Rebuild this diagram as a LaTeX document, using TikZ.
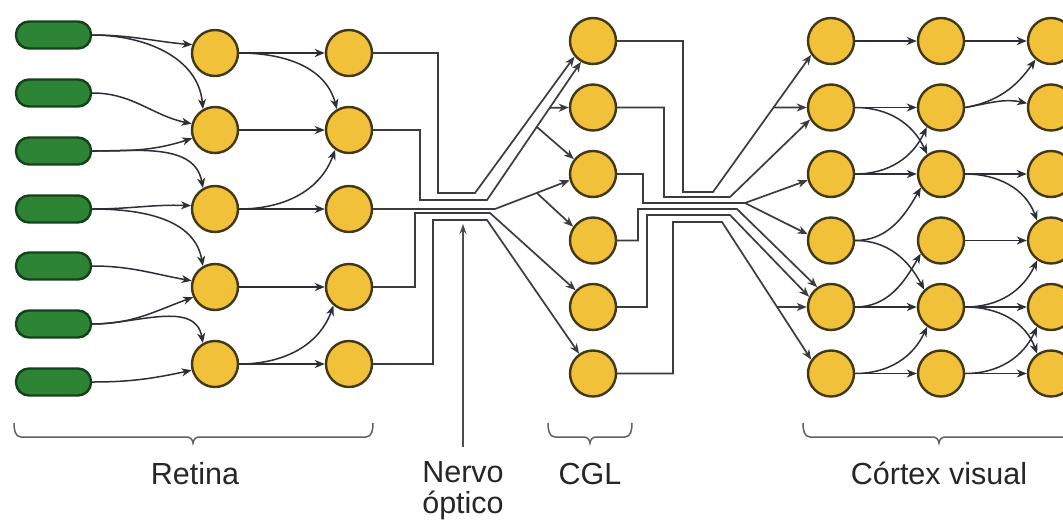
\documentclass[tikz,border=0pt]{standalone}
\usepackage{fontspec}
\setmainfont{Liberation Sans}
\usetikzlibrary{arrows.meta,calc}

\definecolor{cellfill}{RGB}{241,193,58}
\definecolor{celledge}{RGB}{66,56,22}
\definecolor{rodfill}{RGB}{44,132,52}
\definecolor{rodedge}{RGB}{20,66,26}
\definecolor{wire}{RGB}{45,47,56}
\definecolor{fibre}{RGB}{60,60,64}

\begin{document}
\begin{tikzpicture}[x=1pt,y=-1pt,
  cell/.style={circle,draw=celledge,fill=cellfill,line width=2.4pt,minimum size=46pt,inner sep=0pt},
  rod/.style={rectangle,rounded corners=13pt,draw=rodedge,fill=rodfill,line width=2.4pt,
              minimum width=75pt,minimum height=27pt,inner sep=0pt},
  tip/.style={-{Stealth[length=10pt,width=8pt,inset=3pt]}},
  syn/.style={draw=wire,line width=1.5pt,tip},
  fib/.style={draw=fibre,line width=1.7pt,line join=miter},
  fiba/.style={fib,tip},
  lab/.style={font=\fontsize{30.5}{31}\selectfont,text=black!85,inner sep=0pt,anchor=base},
  brc/.style={draw=black!62,line width=1.5pt}
]
\useasboundingbox (0,0) rectangle (1063,520);
\fill[white] (0,0) rectangle (1063,520);
\clip (0,0) rectangle (1063,520);

% ---------- retina: photoreceptors ----------
\foreach \i/\y in {1/35,2/93,3/151,4/209,5/266,6/324,7/382}
  \node[rod] (p\i) at (53.5,\y) {};
% bipolar and ganglion cells
\foreach \i/\y in {1/53,2/130,3/209,4/287,5/364}{
  \node[cell] (b\i) at (215,\y) {};
  \node[cell] (g\i) at (349,\y) {};
}
% ---------- lateral geniculate ----------
\foreach \i/\y in {1/41,2/107.5,3/174,4/240.5,5/307,6/373.5}
  \node[cell] (l\i) at (593,\y) {};
% ---------- visual cortex, three layers ----------
\foreach \i/\y in {1/41,2/107.5,3/174,4/240.5,5/307,6/373.5}{
  \node[cell] (c1\i) at (831,\y) {};
  \node[cell] (c2\i) at (941,\y) {};
  \node[cell] (c3\i) at (1051,\y) {};
}

% ---------- photoreceptors -> bipolar ----------
\draw[syn] (p1.east) to[out=0,in=175] (b1.160);
\draw[syn] (p1.east) to[out=0,in=95]  (b2.120);
\draw[syn] (p2.east) to[out=0,in=168] (b2.165);
\draw[syn] (p3.east) to[out=0,in=198] (b2.200);
\draw[syn] (p3.east) to[out=0,in=100] (b3.120);
\draw[syn] (p4.east) to[out=0,in=178] (b3.172);
\draw[syn] (p4.east) to[out=0,in=100] (b4.120);
\draw[syn] (p5.east) to[out=0,in=170] (b4.165);
\draw[syn] (p6.east) to[out=0,in=200] (b4.205);
\draw[syn] (p6.east) to[out=0,in=100] (b5.120);
\draw[syn] (p7.east) to[out=0,in=192] (b5.195);

% ---------- bipolar -> ganglion ----------
\foreach \i in {1,...,5}
  \draw[syn] (b\i.east) -- (g\i.west);
\draw[syn] (b1.east) to[out=0,in=105] (g2.120);
\draw[syn] (b3.east) to[out=0,in=250] (g2.235);
\draw[syn] (b5.east) to[out=0,in=250] (g4.230);

% ---------- optic nerve ----------
\draw[fiba] (g1.east) -- (438,53) -- (438,193) -- (475,193) -- (l1.220);
\draw[fiba] (g2.east) -- (420,130) -- (420,200) -- (487,200) -- (l1.240);
\path (487,200) -- (l1.240) coordinate[pos=0.667] (j2) coordinate[pos=0.53] (j3);
\draw[fiba] (j2) -- (l2.west);
\draw[fiba] (j3) -- (l3.142);
\draw[fiba] (g3.east) -- (495,209) -- (l3.195);
\path (495,209) -- (l3.195) coordinate[pos=0.56] (j4);
\draw[fiba] (j4) -- (l4.145);
\draw[fiba] (g4.east) -- (415,287) -- (415,213) -- (490,213) -- (l5.136);
\draw[fiba] (g5.east) -- (433,364) -- (433,220) -- (487,220) -- (l6.125);

% ---------- optic radiation ----------
\draw[fiba] (l1.east) -- (683,41) -- (683,192) -- (713,192) -- (c11.215);
\path (713,192) -- (c11.215) coordinate[pos=0.616] (k2);
\draw[fiba] (k2) -- (c12.west);
\draw[fiba] (l2.east) -- (664,107.5) -- (664,197) -- (730,197) -- (c12.210);
\draw[fiba] (l3.east) -- (643,174) -- (643,203) -- (745,203) -- (c13.195);
\draw[fiba] (745,203) -- (c14.165);
\draw[fiba] (l4.east) -- (638,240.5) -- (638,209) -- (737,209) -- (c15.125);
\draw[fiba] (l5.east) -- (647,307) -- (647,215) -- (730,215) -- (c15.155);
\draw[fiba] (l6.east) -- (673,373.5) -- (673,222) -- (722,222) -- (c16.145);
\path (722,222) -- (c16.145) coordinate[pos=0.617] (k5);
\draw[fiba] (k5) -- (c15.west);

% ---------- cortex, first -> second layer ----------
\foreach \i in {1,2,3,5,6}
  \draw[syn] (c1\i.east) -- (c2\i.west);
\draw[syn] (c12.east) to[out=0,in=115] (c23.125);
\draw[syn] (c13.east) to[out=0,in=245] (c22.234);
\draw[syn] (c14.east) to[out=0,in=240] (c23.214);
\draw[syn] (c14.east) to[out=0,in=118] (c25.134);
\draw[syn] (c15.east) to[out=0,in=240] (c24.213);
\draw[syn] (c16.east) to[out=0,in=245] (c25.235);

% ---------- cortex, second -> third layer ----------
\foreach \i in {1,3,4,5,6}
  \draw[syn] (c2\i.east) -- (c3\i.west);
\draw[syn] (c22.east) to[out=10,in=235] (c31.230);
\draw[syn] (c22.east) to[out=10,in=168] (c32.170);
\draw[syn] (c23.east) to[out=0,in=110] (c34.125);
\draw[syn] (c25.east) to[out=0,in=245] (c34.235);
\draw[syn] (c25.east) to[out=0,in=110] (c36.125);
\draw[syn] (c26.east) to[out=0,in=245] (c35.235);

% ---------- braces under each stage ----------
\foreach \xa/\xm/\xb in {14/193/373, 548/590/632, 803/939/1075}
  \draw[brc] (\xa,423) to[out=-90,in=180] (\xa+7,437) -- (\xm-6,437)
             to[out=0,in=95] (\xm,443) to[out=85,in=180] (\xm+6,437)
             -- (\xb-7,437) to[out=0,in=-90] (\xb,423);

% ---------- labels ----------
\node[lab] (retina) at (195,484) {Retina};
\node[lab] (cgl)    at (590,484) {CGL};
\node[lab] (cortex) at (939,484) {Córtex visual};
\node[lab] (nervo)  at (463,482) {Nervo};
\node[lab] (optico) at (463,513) {óptico};
\coordinate (nervetip) at (463,224);
\draw[draw=black!70,line width=1.1pt,shorten <=14pt,-{Stealth[length=10pt,width=7pt]}]
  (nervo.north) -- (nervetip);
\end{tikzpicture}
\end{document}
